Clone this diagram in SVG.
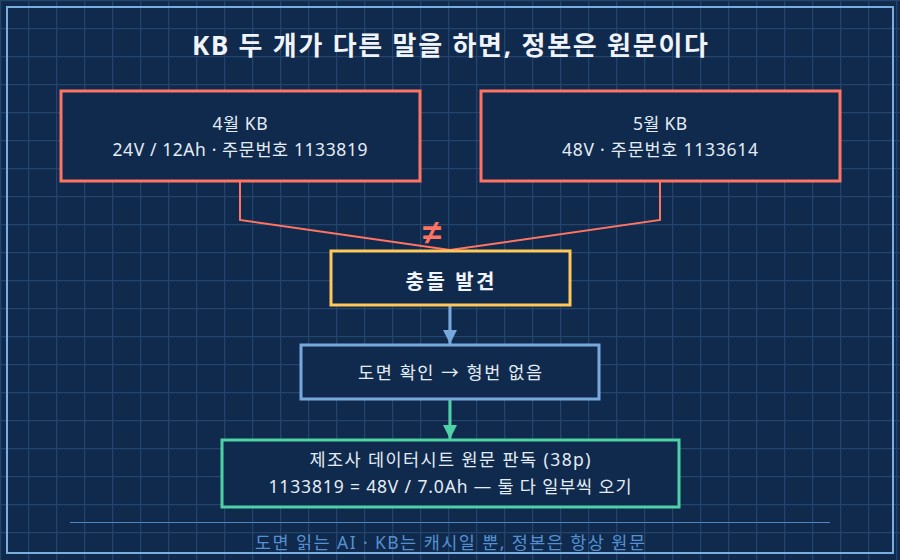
<svg xmlns="http://www.w3.org/2000/svg" width="900" height="560" viewBox="0 0 900 560">
  <defs>
    <pattern id="grid" x="0" y="0" width="28" height="28" patternUnits="userSpaceOnUse">
      <rect x="0" y="0" width="1.2" height="28" fill="#24446e"/>
      <rect x="0" y="0" width="28" height="1.2" fill="#24446e"/>
    </pattern>
    <marker id="arrBlue" viewBox="0 0 10 10" refX="10" refY="5" markerWidth="17" markerHeight="14" markerUnits="userSpaceOnUse" orient="auto">
      <path d="M0,0 L10,5 L0,10 Z" fill="#78a9dc"/>
    </marker>
    <marker id="arrGreen" viewBox="0 0 10 10" refX="10" refY="5" markerWidth="17" markerHeight="14" markerUnits="userSpaceOnUse" orient="auto">
      <path d="M0,0 L10,5 L0,10 Z" fill="#4fd1a6"/>
    </marker>
    <style>
      .t { font-family: "Noto Sans", "Noto Sans CJK KR", sans-serif; fill: #e4ecf5; text-anchor: middle; }
      .box { fill: #0f2a4c; stroke-width: 3; }
      .node { font-size: 17.5px; }
    </style>
  </defs>

  <rect x="0" y="0" width="900" height="560" fill="#0f2a4c"/>
  <rect x="0" y="0" width="900" height="560" fill="url(#grid)"/>
  <rect x="7" y="7" width="886" height="546" fill="none" stroke="#7aaedf" stroke-width="2"/>

  <text class="t" x="450" y="55" font-size="26" font-weight="bold" style="fill:#f0f4fa" textLength="516" lengthAdjust="spacing">KB 두 개가 다른 말을 하면, 정본은 원문이다</text>

  <g id="connectors">
    <path d="M240,181 V220 L450,250" fill="none" stroke="#ff7362" stroke-width="2"/>
    <path d="M660,181 V220 L450,250" fill="none" stroke="#ff7362" stroke-width="2"/>
    <text x="432" y="244" font-family="'Liberation Sans', sans-serif" font-size="34" font-weight="bold" fill="#ff7362" text-anchor="middle">≠</text>
    <line x1="450" y1="306" x2="450" y2="344" stroke="#78a9dc" stroke-width="3" marker-end="url(#arrBlue)"/>
    <line x1="450" y1="400" x2="450" y2="439" stroke="#4fd1a6" stroke-width="3" marker-end="url(#arrGreen)"/>
  </g>

  <g id="node-april">
    <rect class="box" x="61" y="91" width="359" height="90" stroke="#ff7362"/>
    <text class="t node" x="240" y="130" textLength="55" lengthAdjust="spacing">4월 KB</text>
    <text class="t node" x="240" y="156" textLength="255" lengthAdjust="spacing">24V / 12Ah · 주문번호 1133819</text>
  </g>

  <g id="node-may">
    <rect class="box" x="481" y="91" width="359" height="90" stroke="#ff7362"/>
    <text class="t node" x="660" y="130" textLength="54" lengthAdjust="spacing">5월 KB</text>
    <text class="t node" x="660" y="156" textLength="196" lengthAdjust="spacing">48V · 주문번호 1133614</text>
  </g>

  <g id="node-conflict">
    <rect class="box" x="331" y="251" width="239" height="54" stroke="#ffc857"/>
    <text class="t" x="450" y="289" font-size="20" font-weight="bold" style="fill:#f0f4fa" textLength="89" lengthAdjust="spacing">충돌 발견</text>
  </g>

  <g id="node-drawing">
    <rect class="box" x="301" y="345" width="298" height="54" stroke="#78a9dc"/>
    <text class="t node" x="450" y="379" textLength="184" lengthAdjust="spacing">도면 확인 → 형번 없음</text>
  </g>

  <g id="node-datasheet">
    <rect class="box" x="222" y="440" width="457" height="67" stroke="#4fd1a6"/>
    <text class="t node" x="450" y="466" textLength="281" lengthAdjust="spacing">제조사 데이터시트 원문 판독 (38p)</text>
    <text class="t node" x="450" y="493" textLength="363" lengthAdjust="spacing">1133819 = 48V / 7.0Ah — 둘 다 일부씩 오기</text>
  </g>

  <line x1="70" y1="522.5" x2="830" y2="522.5" stroke="#4f86c6" stroke-width="1"/>
  <text class="t" x="450" y="549" font-size="17.5" style="fill:#5590d2" textLength="390" lengthAdjust="spacing">도면 읽는 AI · KB는 캐시일 뿐, 정본은 항상 원문</text>
</svg>
